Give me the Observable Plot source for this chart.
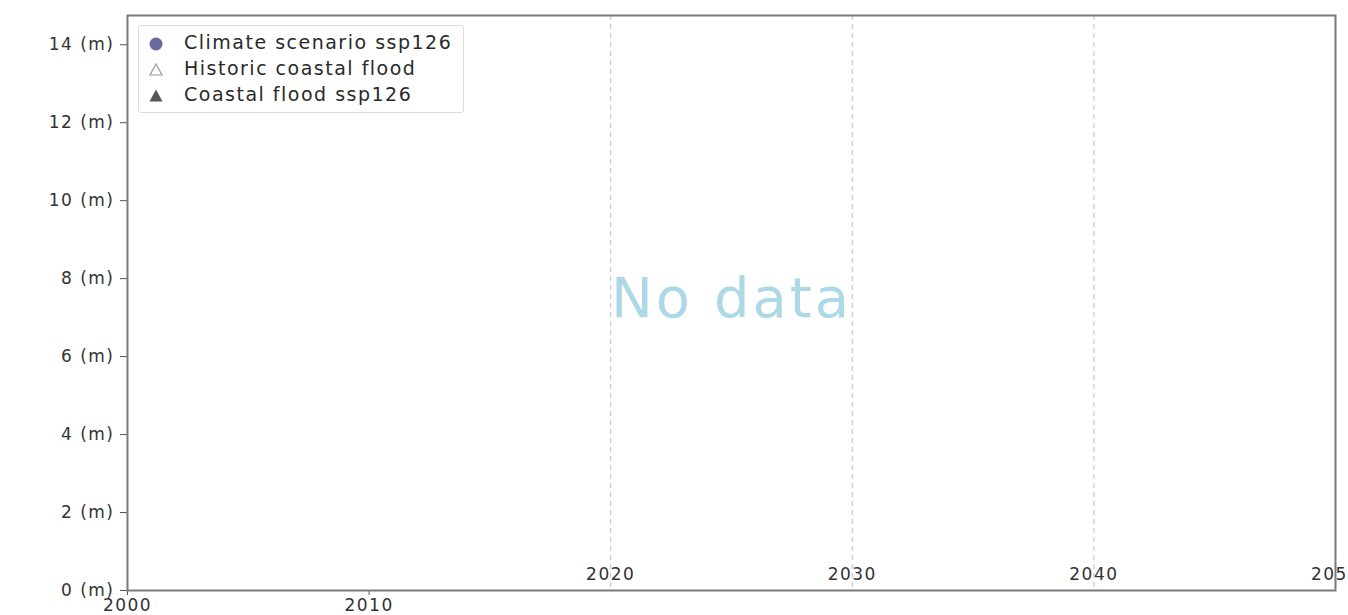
<!DOCTYPE html>
<html>
<head>
<meta charset="utf-8">
<script src="https://cdn.jsdelivr.net/npm/d3@7"></script>
<script src="https://cdn.jsdelivr.net/npm/@observablehq/plot@0.6"></script>
<style>
  html, body { margin: 0; padding: 0; background: #fff; overflow: hidden; }
  #wrap { position: relative; width: 1348px; height: 615px; font-family: "DejaVu Sans", sans-serif; }
  #legend { position: absolute; left: 138px; top: 25px; width: 326px; height: 88px;
    border: 1px solid #dcdcdc; border-radius: 3px; background: rgba(255,255,255,0.85); box-sizing: border-box; }
  .row { position: absolute; left: 0; height: 26px; display: flex; align-items: center; }
  .row svg { position: absolute; left: 8px; }
  .row span { position: absolute; left: 45px; white-space: nowrap; font-size: 19px; letter-spacing: 1.5px; color: #2a2a2a; }
</style>
</head>
<body>
<div id="wrap"><div id="chart"></div><div id="legend"></div></div>
<script>
// ---- data ----
const xDomain = [2000, 2050];
const yDomain = [0, 14.75];
const yTicks = [0, 2, 4, 6, 8, 10, 12, 14];
const xTicksBelow = [2000, 2010];
const xTicksAbove = [2020, 2030, 2040, 2050];
const gridYears = [2020, 2030, 2040, 2050];
const noDataMessage = ["No data"];
const legendLabels = ["Climate scenario ssp126", "Historic coastal flood", "Coastal flood ssp126"];
const legendSymbols = ["circle", "triangle-open", "triangle"];
const legendColors = ["#686c9c", "#9a9a9a", "#555555"];

const chart = Plot.plot({
  width: 1348,
  height: 615,
  marginLeft: 127,
  marginRight: 13,
  marginTop: 15,
  marginBottom: 25,
  x: { domain: xDomain },
  y: { domain: yDomain },
  style: { fontFamily: "DejaVu Sans, sans-serif", color: "#333", background: "white", letterSpacing: "1.5px" },
  marks: [
    Plot.ruleX(gridYears, { stroke: "#c8c8c8", strokeDasharray: "5,4", strokeWidth: 1.2 }),
    Plot.text(noDataMessage, { frameAnchor: "middle", text: d => d, fontSize: 56, dy: -4, fill: "#add8e6" }),
    Plot.axisY({ ticks: yTicks, tickFormat: d => `${d} (m)`, tickSize: 7, tickPadding: 6, fontSize: 17, stroke: "#555" }),
    Plot.axisX({ ticks: xTicksBelow, tickFormat: d => `${d}`, tickSize: 5, tickPadding: 3, fontSize: 17, stroke: "#555" }),
    Plot.text(xTicksAbove, { x: d => d, frameAnchor: "bottom", dy: -11, text: d => `${d}`, fontSize: 17, fill: "#333" }),
    Plot.frame({ stroke: "#7a7a7a", strokeWidth: 2 })
  ]
});
chart.querySelectorAll("text").forEach(t => {
  if (t.textContent === "No data") t.style.letterSpacing = "3px";
});
document.getElementById("chart").appendChild(chart);

const legend = document.getElementById("legend");
legendLabels.forEach((label, i) => {
  const row = document.createElement("div");
  row.className = "row";
  row.style.top = (5 + i * 26) + "px";
  const sym = legendSymbols[i];
  let shape;
  if (sym === "circle") shape = `<circle cx="9" cy="9" r="6.5" fill="${legendColors[i]}"/>`;
  else if (sym === "triangle") shape = `<polygon points="9,2.5 15.5,14.5 2.5,14.5" fill="${legendColors[i]}"/>`;
  else shape = `<polygon points="9,3 15,14 3,14" fill="none" stroke="${legendColors[i]}" stroke-width="1.2"/>`;
  row.innerHTML = `<svg width="18" height="18" style="top:4px">${shape}</svg><span style="top:0px">${label}</span>`;
  legend.appendChild(row);
});
</script>
</body>
</html>
